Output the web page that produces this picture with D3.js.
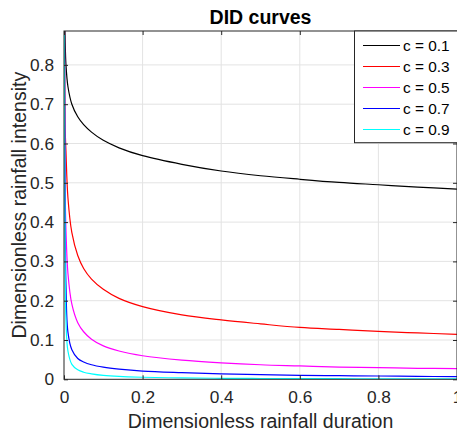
<!DOCTYPE html>
<html>
<head>
<meta charset="utf-8">
<script src="https://cdn.jsdelivr.net/npm/d3@7"></script>
<style>
    body { margin: 0; background: #fff; }
    #chart-area { width: 457px; height: 435px; overflow: hidden; }
    text { font-family: "Liberation Sans", Arial, Helvetica, sans-serif; }
</style>
</head>
<body>
<div id="chart-area"></div>
<script>
// dimensionless durations the curves were read at
const durations = [0.001, 0.003, 0.005, 0.01, 0.02, 0.035, 0.05, 0.07, 0.1, 0.14,
    0.2, 0.3, 0.4, 0.5, 0.6, 0.7, 0.8, 0.9, 1.0];

// dimensionless intensity, one array per c value
const c01 = [0.98, 0.86, 0.80, 0.745, 0.70, 0.668, 0.648, 0.629, 0.608, 0.589,
    0.569, 0.547, 0.530, 0.518, 0.509, 0.501, 0.495, 0.489, 0.484];
const c03 = [0.95, 0.64, 0.58, 0.462, 0.373, 0.315, 0.282, 0.255, 0.229, 0.206,
    0.185, 0.164, 0.151, 0.141, 0.132, 0.127, 0.122, 0.118, 0.1145];
const c05 = [0.95, 0.48, 0.38, 0.27, 0.191, 0.144, 0.121, 0.102, 0.085, 0.072,
    0.060, 0.049, 0.042, 0.037, 0.034, 0.031, 0.0296, 0.028, 0.027];
const c07 = [0.95, 0.40, 0.24, 0.12, 0.075, 0.053, 0.044, 0.037, 0.031, 0.026,
    0.021, 0.017, 0.014, 0.012, 0.010, 0.0092, 0.0084, 0.0075, 0.0067];
const c09 = [0.95, 0.28, 0.15, 0.072, 0.038, 0.024, 0.018, 0.014, 0.010, 0.0072,
    0.0052, 0.0034, 0.0026, 0.0021, 0.0017, 0.0015, 0.0013, 0.0011, 0.001];

const seriesNames = ["c = 0.1", "c = 0.3", "c = 0.5", "c = 0.7", "c = 0.9"];
const seriesColors = ["#000000", "#ff0000", "#ff00ff", "#0000ff", "#00ffff"];

const xTicks = [0, 0.2, 0.4, 0.6, 0.8, 1];
const yTicks = [0, 0.1, 0.2, 0.3, 0.4, 0.5, 0.6, 0.7, 0.8];

class DidVis {
    constructor(parentElement) {
        this.parentElement = parentElement;
        this.initVis();
    }

    initVis() {
        let vis = this;

        vis.margin = {top: 31, right: 0, bottom: 55.7, left: 64};
        vis.width = 457 - vis.margin.left - vis.margin.right;
        vis.height = 435 - vis.margin.top - vis.margin.bottom;

        vis.svg = d3.select("#" + vis.parentElement).append("svg")
            .attr("width", 457)
            .attr("height", 435);

        vis.g = vis.svg.append("g")
            .attr("transform", `translate(${vis.margin.left},${vis.margin.top})`);

        vis.x = d3.scaleLinear().domain([0, 1]).range([0, vis.width]);
        vis.y = d3.scaleLinear().domain([0, vis.height / vis.width]).range([vis.height, 0]);

        vis.svg.append("defs").append("clipPath")
            .attr("id", "plot-clip")
            .append("rect")
            .attr("width", vis.width)
            .attr("height", vis.height);

        vis.wrangleData();
    }

    wrangleData() {
        let vis = this;
        let all = [c01, c03, c05, c07, c09];
        vis.series = all.map((vals, i) => ({
            name: seriesNames[i],
            color: seriesColors[i],
            values: durations.map((d, j) => ({d: d, v: vals[j]}))
        }));
        vis.updateVis();
    }

    updateVis() {
        let vis = this;
        let axisColor = "#262626";

        // grid
        vis.g.append("g").selectAll("line.gx")
            .data(xTicks.slice(1, -1)).enter().append("line")
            .attr("x1", d => vis.x(d)).attr("x2", d => vis.x(d))
            .attr("y1", 0).attr("y2", vis.height)
            .attr("stroke", "#e3e3e3").attr("stroke-width", 1);
        vis.g.append("g").selectAll("line.gy")
            .data(yTicks.slice(1)).enter().append("line")
            .attr("x1", 0).attr("x2", vis.width)
            .attr("y1", d => vis.y(d)).attr("y2", d => vis.y(d))
            .attr("stroke", "#e3e3e3").attr("stroke-width", 1);

        // curves
        let line = d3.line()
            .x(d => vis.x(d.d))
            .y(d => vis.y(d.v))
            .curve(d3.curveCatmullRom.alpha(0.5));

        vis.g.append("g")
            .attr("clip-path", "url(#plot-clip)")
            .selectAll("path")
            .data(vis.series).enter().append("path")
            .attr("d", d => line(d.values))
            .attr("fill", "none")
            .attr("stroke", d => d.color)
            .attr("stroke-width", 1.2);

        // axes (ticks inside, box on)
        let styleAxis = function(sel) {
            sel.select(".domain").remove();
            sel.selectAll(".tick line").attr("stroke", axisColor);
            sel.selectAll(".tick text")
                .attr("fill", axisColor)
                .style("font-size", "17.3px");
        };

        vis.g.append("g")
            .attr("transform", `translate(0,${vis.height})`)
            .call(d3.axisBottom(vis.x).tickValues(xTicks).tickFormat(d3.format("")).tickSize(-4).tickPadding(11))
            .call(styleAxis);
        vis.g.append("g")
            .call(d3.axisTop(vis.x).tickValues(xTicks).tickFormat("").tickSize(-4))
            .call(styleAxis);
        vis.g.append("g")
            .call(d3.axisLeft(vis.y).tickValues(yTicks).tickFormat(d3.format("")).tickSize(-4).tickPadding(10))
            .call(styleAxis);
        vis.g.append("g")
            .attr("transform", `translate(${vis.width},0)`)
            .call(d3.axisRight(vis.y).tickValues(yTicks).tickFormat("").tickSize(-4))
            .call(styleAxis);

        vis.g.append("rect")
            .attr("width", vis.width)
            .attr("height", vis.height)
            .attr("fill", "none")
            .attr("stroke", axisColor)
            .attr("stroke-width", 1);

        // title and labels
        vis.svg.append("text")
            .attr("x", vis.margin.left + vis.width / 2)
            .attr("y", 24)
            .attr("text-anchor", "middle")
            .style("font-size", "19.5px")
            .style("font-weight", "bold")
            .attr("fill", "#000")
            .text("DID curves");

        vis.svg.append("text")
            .attr("x", vis.margin.left + vis.width / 2)
            .attr("y", 428)
            .attr("text-anchor", "middle")
            .style("font-size", "19.5px")
            .attr("fill", axisColor)
            .text("Dimensionless rainfall duration");

        vis.svg.append("text")
            .attr("transform", `translate(26,${vis.margin.top + vis.height / 2}) rotate(-90)`)
            .attr("text-anchor", "middle")
            .style("font-size", "19.5px")
            .attr("fill", axisColor)
            .text("Dimensionless rainfall intensity");

        // legend
        vis.legend = vis.svg.append("g")
            .attr("transform", "translate(354,31)");

        vis.legend.append("rect")
            .attr("x", 0.5).attr("y", 0)
            .attr("width", 115).attr("height", 111.7)
            .attr("fill", "#fff")
            .attr("stroke", axisColor)
            .attr("stroke-width", 1);

        let rows = vis.legend.selectAll("g.row")
            .data(vis.series).enter().append("g")
            .attr("transform", (d, i) => `translate(0,${14.5 + i * 21})`);
        rows.append("line")
            .attr("x1", 9).attr("x2", 46)
            .attr("stroke", d => d.color)
            .attr("stroke-width", 1.2);
        rows.append("text")
            .attr("x", 49)
            .attr("dy", "0.35em")
            .style("font-size", "15.4px")
            .attr("fill", "#000")
            .text(d => d.name);
    }
}

new DidVis("chart-area");
</script>
</body>
</html>
